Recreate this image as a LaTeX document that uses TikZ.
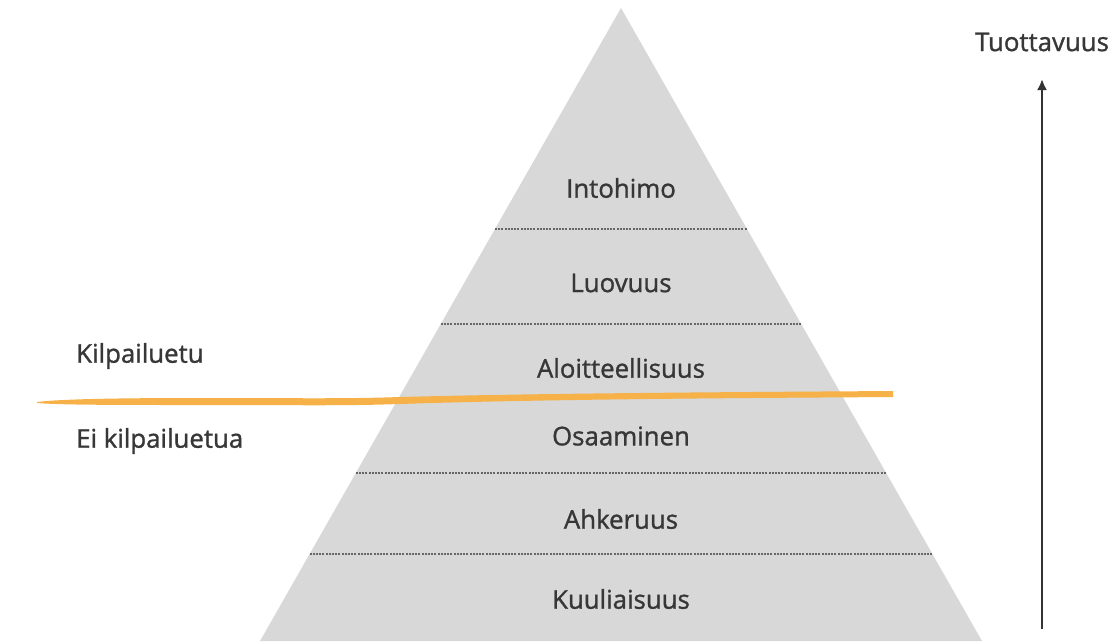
\documentclass[tikz,border=0pt]{standalone}
\usepackage{fontspec}
\setmainfont{Open Sans}
\newfontfamily\lblfont{Open Sans}[FakeBold=1.2]
\usetikzlibrary{arrows.meta}
\definecolor{pyr}{RGB}{216,216,216}
\definecolor{txt}{RGB}{55,55,55}
\definecolor{orng}{RGB}{246,178,72}
\tikzset{
  lbl/.style={font=\fontsize{25.8}{28}\lblfont, text=txt, inner sep=0pt},
  sep/.style={draw=black!60, line width=2.8pt, dash pattern=on 2pt off 1.2pt},
}
\begin{document}
\begin{tikzpicture}[x=1pt,y=-1pt]
\useasboundingbox (0,0) rectangle (1115,641);
% pyramid
\coordinate (apex) at (621,8);
\coordinate (bl) at (260,641);
\coordinate (br) at (982,641);
\fill[pyr] (apex) -- (br) -- (bl) -- cycle;
% separators (half width = 0.5703*(y-8))
\foreach \y in {229,324,473,554}{
  \pgfmathsetmacro{\hw}{0.5703*(\y-8)}
  \draw[sep] ({621-\hw},\y) -- ({621+\hw},\y);
}
% level labels
\node[lbl] (l1) at (621,188) {Intohimo};
\node[lbl] (l2) at (621,283) {Luovuus};
\node[lbl] (l3) at (621,368) {Aloitteellisuus};
\node[lbl] (l4) at (621,436) {Osaaminen};
\node[lbl] (l5) at (621,519) {Ahkeruus};
\node[lbl] (l6) at (621,599) {Kuuliaisuus};
% orange line
\fill[orng] (37,402) .. controls (60,399) and (120,398) .. (200,398)
  .. controls (300,398) and (340,399) .. (400,397)
  .. controls (550,393) and (750,392) .. (893,391)
  -- (893,397) .. controls (750,398) and (550,399) .. (400,404)
  .. controls (340,406) and (300,405) .. (200,405)
  .. controls (120,405) and (60,405) .. (37,403) -- cycle;
% side labels
\node[lbl, anchor=west] (k1) at (76,356) {Kilpailuetu};
\node[lbl, anchor=west] (k2) at (76,441) {Ei kilpailuetua};
% arrow
\node[lbl] (tuot) at (1042,42) {Tuottavuus};
\coordinate (abot) at (1042,629);
\coordinate (atop) at (1042,79);
\draw[line width=2.8pt, black!80, -{Latex[length=11pt,width=10pt]}] (abot) -- (atop);
\end{tikzpicture}
\end{document}
